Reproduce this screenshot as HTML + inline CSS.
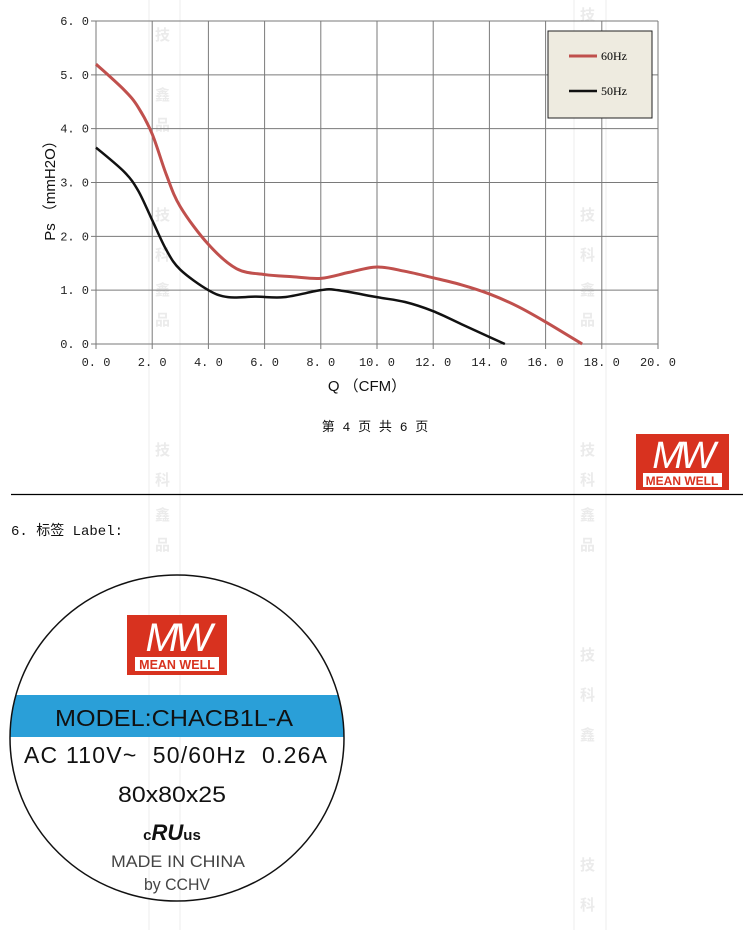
<!DOCTYPE html>
<html><head><meta charset="utf-8"><style>
body{margin:0;background:#fff;width:750px;height:930px;overflow:hidden}
svg{display:block}
</style></head><body>
<svg id="s" width="750" height="930" viewBox="0 0 750 930" xmlns="http://www.w3.org/2000/svg">
<g stroke="#ececec" stroke-width="1">
<line x1="149" y1="0" x2="149" y2="930"/><line x1="180" y1="0" x2="180" y2="930"/>
<line x1="574" y1="0" x2="574" y2="930"/><line x1="606" y1="0" x2="606" y2="930"/>
</g>
<g fill="#ebebeb" font-family="Noto Sans CJK SC, sans-serif" font-size="15" font-weight="bold">
<text x="155" y="40">技</text><text x="155" y="100">鑫</text><text x="155" y="130">品</text>
<text x="155" y="220">技</text><text x="155" y="260">科</text><text x="155" y="295">鑫</text><text x="155" y="325">品</text>
<text x="155" y="455">技</text><text x="155" y="485">科</text><text x="155" y="520">鑫</text><text x="155" y="550">品</text>
<text x="580" y="20">技</text><text x="580" y="220">技</text><text x="580" y="260">科</text><text x="580" y="295">鑫</text><text x="580" y="325">品</text>
<text x="580" y="455">技</text><text x="580" y="485">科</text><text x="580" y="520">鑫</text><text x="580" y="550">品</text>
<text x="580" y="660">技</text><text x="580" y="700">科</text><text x="580" y="740">鑫</text>
<text x="580" y="870">技</text><text x="580" y="910">科</text>
</g>
<g id="grid" stroke="#7a7a7a" stroke-width="1"></g>
<g font-family="Liberation Mono, monospace" font-size="12" fill="#222" id="ticks"></g>
<text x="55" y="187" transform="rotate(-90 55 187)" text-anchor="middle" font-family="Liberation Sans, sans-serif" font-size="15" fill="#111">Ps （mmH2O）</text>
<text x="367" y="391" text-anchor="middle" font-family="Liberation Sans, sans-serif" font-size="15" fill="#111">Q （CFM）</text>
<path id="red" fill="none" stroke="#c0504d" stroke-width="3"/>
<path id="blk" fill="none" stroke="#111" stroke-width="2.5"/>
<rect x="548" y="31" width="104" height="87" fill="#eeebe0" stroke="#222" stroke-width="1"/>
<line x1="569" y1="56" x2="597" y2="56" stroke="#c0504d" stroke-width="3"/>
<line x1="569" y1="91" x2="597" y2="91" stroke="#111" stroke-width="2.5"/>
<text x="601" y="60" font-family="Liberation Serif, serif" font-size="12">60Hz</text>
<text x="601" y="95" font-family="Liberation Serif, serif" font-size="12">50Hz</text>
<text x="375" y="431" text-anchor="middle" font-family="Liberation Mono, Noto Sans CJK SC, monospace" font-size="13" fill="#111">第 4 页 共 6 页</text>
<g transform="translate(636,434)">
<rect width="93" height="56" fill="#d8321f"/>
<text x="46" y="34" text-anchor="middle" font-family="Liberation Sans, sans-serif" font-style="italic" font-size="38" fill="#fff" letter-spacing="-4">MW</text>
<rect x="7" y="39" width="79" height="14" fill="#fff"/>
<text x="46" y="51" text-anchor="middle" font-family="Liberation Sans, sans-serif" font-weight="bold" font-size="12" fill="#d8321f">MEAN WELL</text>
</g>
<line x1="11" y1="494.5" x2="743" y2="494.5" stroke="#000" stroke-width="1.3"/>
<text x="11" y="535" font-family="Liberation Mono, Noto Sans CJK SC, monospace" font-size="14" fill="#111">6. 标签 Label:</text>
<defs><clipPath id="c"><ellipse cx="177" cy="738" rx="167" ry="163"/></clipPath></defs>
<rect x="0" y="695" width="360" height="42" fill="#2a9fd8" clip-path="url(#c)"/>
<ellipse cx="177" cy="738" rx="167" ry="163" fill="none" stroke="#111" stroke-width="1.5"/>
<g transform="translate(127,615)">
<rect width="100" height="60" fill="#d8321f"/>
<text x="50" y="36" text-anchor="middle" font-family="Liberation Sans, sans-serif" font-style="italic" font-size="40" fill="#fff" letter-spacing="-4">MW</text>
<rect x="8" y="42" width="84" height="14" fill="#fff"/>
<text x="50" y="54" text-anchor="middle" font-family="Liberation Sans, sans-serif" font-weight="bold" font-size="12.5" fill="#d8321f">MEAN WELL</text>
</g>
<g font-family="Liberation Sans, sans-serif" fill="#111">
<text x="55" y="726" font-size="23" textLength="238" lengthAdjust="spacingAndGlyphs">MODEL:CHACB1L-A</text>
<text x="24" y="763" font-size="23" textLength="303" lengthAdjust="spacing" xml:space="preserve">AC 110V~  50/60Hz  0.26A</text>
<text x="118" y="802" font-size="22" textLength="108" lengthAdjust="spacingAndGlyphs">80x80x25</text>
<text x="172" y="840" text-anchor="middle" font-size="15" font-weight="bold">c<tspan font-size="22" font-style="italic">RU</tspan>us</text>
<text x="111" y="867" font-size="17" fill="#444" textLength="134" lengthAdjust="spacingAndGlyphs">MADE IN CHINA</text>
<text x="144" y="890" font-size="17" fill="#444" textLength="66" lengthAdjust="spacingAndGlyphs">by CCHV</text>
</g>
</svg>
<script>
var X=v=>96+v*28.1, Y=v=>344-v*53.83;
var g=document.getElementById('grid'),t=document.getElementById('ticks'),ns='http://www.w3.org/2000/svg';
function el(p,tag,a,txt){var e=document.createElementNS(ns,tag);for(var k in a)e.setAttribute(k,a[k]);if(txt)e.textContent=txt;p.appendChild(e);}
for(var i=0;i<=10;i++){var x=X(i*2);el(g,'line',{x1:x,y1:21,x2:x,y2:349});el(t,'text',{x:x,y:366,'text-anchor':'middle'},(i*2).toFixed(1).replace('.','. '));}
for(var j=0;j<=6;j++){var y=Y(j);el(g,'line',{x1:91,y1:y,x2:658,y2:y});el(t,'text',{x:89,y:y+4,'text-anchor':'end'},j.toFixed(1).replace('.','. '));}
function cr(pts){var P=pts.map(p=>[X(p[0]),Y(p[1])]);var d='M'+P[0];for(var i=0;i<P.length-1;i++){var p0=P[i-1]||P[i],p1=P[i],p2=P[i+1],p3=P[i+2]||p2;
d+=' C'+(p1[0]+(p2[0]-p0[0])/6)+','+(p1[1]+(p2[1]-p0[1])/6)+' '+(p2[0]-(p3[0]-p1[0])/6)+','+(p2[1]-(p3[1]-p1[1])/6)+' '+p2;}return d;}
document.getElementById('red').setAttribute('d',cr([[0,5.2],[1,4.72],[1.5,4.4],[2,3.9],[2.5,3.15],[3,2.55],[4,1.85],[5,1.4],[6,1.29],[7,1.25],[8,1.22],[9,1.33],[10,1.43],[11,1.35],[12,1.23],[13,1.1],[14,0.93],[15,0.7],[16,0.41],[17.3,0]]));
document.getElementById('blk').setAttribute('d',cr([[0,3.65],[1,3.2],[1.5,2.85],[2,2.3],[2.5,1.75],[3,1.38],[4,1.0],[4.7,0.87],[5.7,0.88],[6.7,0.87],[8,1.0],[8.6,1.0],[10,0.87],[11,0.78],[12,0.61],[13,0.37],[14,0.13],[14.55,0]]));
</script>
</body></html>
